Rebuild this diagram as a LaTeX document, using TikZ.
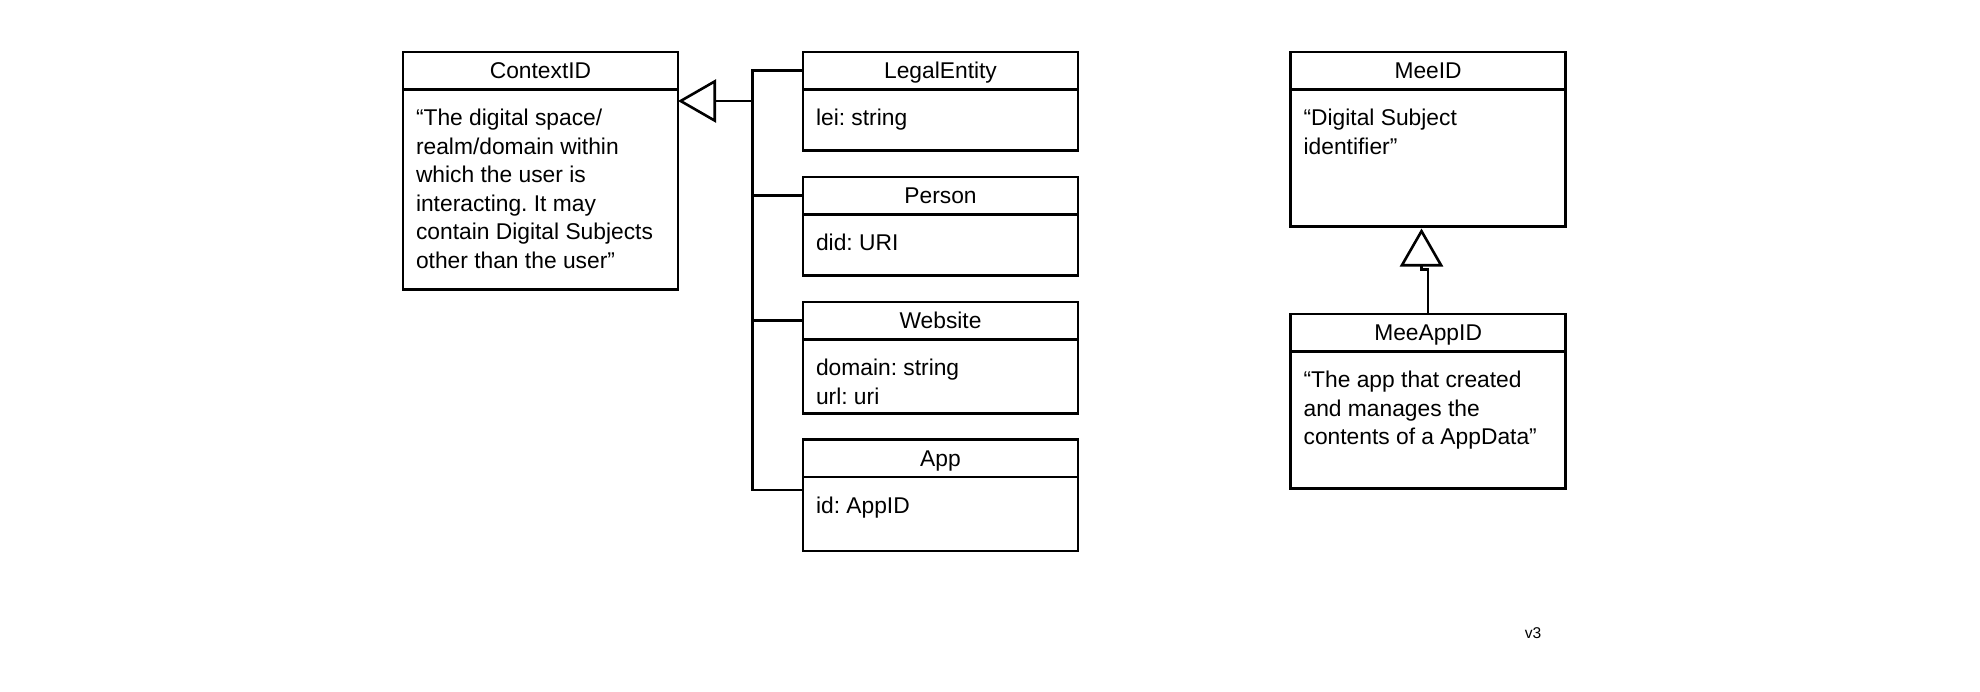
\documentclass[tikz,border=0pt]{standalone}
\usepackage{fontspec}
\setmainfont{Liberation Sans}
\usetikzlibrary{arrows.meta,calc}

\begin{document}
\begin{tikzpicture}[x=0.5pt, y=-0.5pt, line width=1.3pt, outer sep=0pt,
 classhead/.style={draw, anchor=north west, minimum width=137.5pt, minimum height=18.75pt, inner sep=0pt, text height=8.2pt, text depth=0pt, font=\fontsize{11.4}{14.3}\selectfont},
 classbody/.style={draw, anchor=north west, minimum width=137.5pt, inner sep=0pt},
 classtext/.style={anchor=north west, inner sep=0pt, align=left, font=\fontsize{11.4}{14.3}\selectfont\frenchspacing},
 inherit/.style={-{Triangle[open, length=19pt, width=21.5pt]}}]
\useasboundingbox (0,0) rectangle (1980,691);
% ContextID and its kinds
\node[classhead] (ctx) at (403, 52) {ContextID};
\node[classbody, minimum height=100pt] (ctx body) at (ctx.south west) {};
\node[classtext] (ctx text) at ([shift={(13,19.5)}]ctx body.north west) {“The digital space/\\realm/domain within\\which the user is\\interacting. It may\\contain Digital Subjects\\other than the user”};
\node[classhead] (le) at (803, 52) {LegalEntity};
\node[classbody, minimum height=30.5pt] (le body) at (le.south west) {};
\node[classtext] (le text) at ([shift={(13,19.5)}]le body.north west) {lei: string};
\node[classhead] (person) at (803, 177) {Person};
\node[classbody, minimum height=30.5pt] (person body) at (person.south west) {};
\node[classtext] (person text) at ([shift={(13,19.5)}]person body.north west) {did: URI};
\node[classhead] (web) at (803, 302) {Website};
\node[classbody, minimum height=37pt] (web body) at (web.south west) {};
\node[classtext] (web text) at ([shift={(13,19.5)}]web body.north west) {domain: string\\url: uri};
\node[classhead] (app) at (803, 439.5) {App};
\node[classbody, minimum height=37pt] (app body) at (app.south west) {};
\node[classtext] (app text) at ([shift={(13,19.5)}]app body.north west) {id: AppID};
% MeeID and MeeAppID
\node[classhead] (meeid) at (1290.6, 52) {MeeID};
\node[classbody, minimum height=68.5pt] (meeid body) at (meeid.south west) {};
\node[classtext] (meeid text) at ([shift={(13,19.5)}]meeid body.north west) {“Digital Subject\\identifier”};
\node[classhead] (meeapp) at (1290.6, 314) {MeeAppID};
\node[classbody, minimum height=68.5pt] (meeapp body) at (meeapp.south west) {};
\node[classtext] (meeapp text) at ([shift={(13,19.5)}]meeapp body.north west) {“The app that created\\and manages the\\contents of a AppData”};
\node[inner sep=0pt, text height=5.6pt, text depth=0pt, font=\fontsize{7.8}{9}\selectfont] (version) at (1533, 633) {v3};
% generalisation
\coordinate (bus) at (752.7, 101);
\draw[inherit] (bus) -- (ctx body.east |- bus);
\draw (le.west) -| (bus);
\draw (person.west) -| (bus);
\draw (web.west) -| (bus);
\draw ([yshift=-6.5pt]app body.north west) -| (bus);
\draw[inherit] (meeapp.north) -- ++(0,-44.5) -- ++(-6.6,0) -- ([xshift=-3.3pt,yshift=-1pt]meeid body.south);
\end{tikzpicture}
\end{document}
